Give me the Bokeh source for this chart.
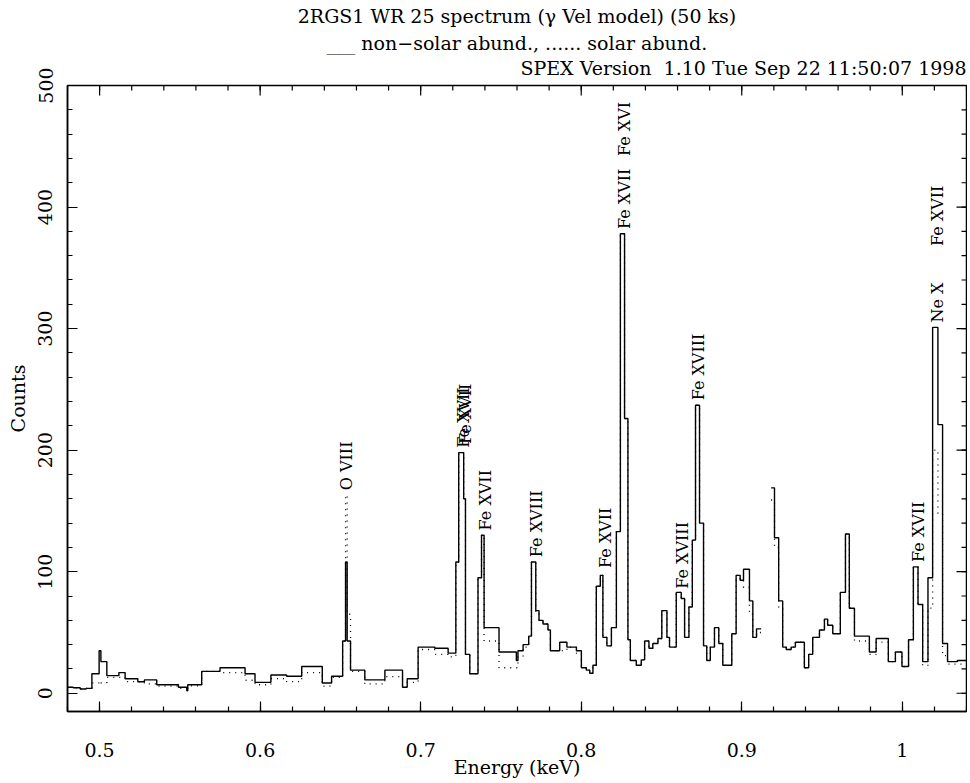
import math
import numpy as np
from bokeh.plotting import figure
from bokeh.models import Range1d, FixedTicker, Title, ColumnDataSource
from bokeh.embed import file_html
from bokeh.resources import INLINE
from bokeh.core.properties import value

FONT = "DejaVu Serif"

# ---- spectrum, first chip segment (bin edges in keV, counts per bin) ----
edges_a = [0.478, 0.4835, 0.4879, 0.4916, 0.4952, 0.4997, 0.5008, 0.5045, 0.5120, 0.5159,
           0.5238, 0.5279, 0.5356, 0.5491, 0.5543, 0.5549, 0.5636, 0.5750, 0.5906, 0.5968,
           0.6067, 0.6165, 0.6259, 0.6387, 0.6445, 0.6514, 0.6532, 0.6542, 0.6563, 0.6652,
           0.6777, 0.6887, 0.6916, 0.6984, 0.7088, 0.7171, 0.7219, 0.7237, 0.7268, 0.7279,
           0.7306, 0.7357, 0.7379, 0.7395, 0.7488, 0.7596, 0.7606, 0.7638, 0.7673, 0.7690,
           0.7717, 0.7737, 0.7762, 0.7793, 0.7808, 0.7866, 0.7911, 0.7970, 0.8001, 0.8032,
           0.8053, 0.8073, 0.8094, 0.8119, 0.8135, 0.8160, 0.8188, 0.8219, 0.8244, 0.8270,
           0.8291, 0.8306, 0.8343, 0.8374, 0.8395, 0.8422, 0.8446, 0.8478, 0.8502, 0.8534,
           0.8550, 0.8592, 0.8623, 0.8644, 0.8671, 0.8692, 0.8712, 0.8737, 0.8762, 0.8782,
           0.8804, 0.8830, 0.8857, 0.8882, 0.8938, 0.8965, 0.8990, 0.9011, 0.9048, 0.9069,
           0.9092, 0.9121]
nonsolar_a = [5, 4.5, 3.5, 4, 16, 35, 26, 14.5, 17, 12,
              9.5, 11, 7, 5, 2, 7, 18, 21, 16, 9,
              15, 14, 22, 8.5, 14, 43, 108, 43, 19, 11,
              19, 5, 12, 38, 37, 33, 108, 198, 160, 32,
              16, 95, 130, 54, 34, 27, 35, 40, 47, 108,
              68, 60, 57, 52, 35, 42, 38, 35, 21, 19,
              16.5, 23, 88, 97, 46, 39, 54, 133, 378, 226,
              44, 27, 23, 27.5, 43, 37, 41, 45, 68, 46,
              38, 83, 78, 46, 71, 126, 237, 140, 39, 27,
              38, 54, 41, 23, 49, 97, 93, 102, 76, 46,
              53]
solar_a = [5, 4.5, 3.5, 4, 8.5, 10, 8.5, 13, 13, 9.6,
           9.6, 7.7, 5.8, 4, 2, 6, 18, 17, 10.7, 7,
           12, 9.6, 17, 5.8, 13, 43, 163, 65, 18, 7.7,
           13.7, 5, 9, 36, 32, 30, 108, 198, 160, 32,
           16, 95, 130, 43, 21, 21, 30, 38, 46, 108,
           66, 60, 57, 52, 35, 35, 38, 33, 21, 19,
           16.5, 23, 88, 97, 46, 39, 54, 133, 378, 226,
           44, 27, 23, 27.5, 43, 37, 41, 45, 68, 46,
           38, 83, 78, 46, 71, 126, 237, 140, 39, 27,
           38, 54, 41, 23, 49, 97, 93, 87, 65, 46,
           50]

# ---- spectrum, second chip segment ----
edges_b = [0.9183, 0.9204, 0.9230, 0.9255, 0.9277, 0.9308, 0.9334, 0.9390, 0.9417, 0.9442,
           0.9484, 0.9515, 0.9535, 0.9567, 0.9614, 0.9646, 0.9670, 0.9702, 0.9795, 0.9837,
           0.9913, 0.9957, 0.9998, 1.0039, 1.0069, 1.0098, 1.0127, 1.0160, 1.0189, 1.0222,
           1.0251, 1.0282, 1.0343, 1.045]
nonsolar_b = [169, 128, 76, 38, 36, 38, 42, 21, 32, 46,
              52, 61, 56, 49, 83, 131, 70, 47, 34, 45,
              26, 34, 22, 44, 104, 73, 26, 95, 301, 221,
              41, 26, 27]
solar_b = [159, 120, 70, 38, 36, 38, 42, 21, 32, 46,
           52, 61, 56, 49, 83, 131, 70, 43, 32, 42,
           26, 34, 22, 44, 104, 73, 23, 70, 200, 148,
           31, 24, 24]

# ---- line identifications (energy keV, counts at label start, name) ----
line_energy = [0.6540, 0.7268, 0.7281, 0.7405, 0.7723, 0.8152, 0.8270, 0.8270,
               0.8631, 0.8731, 1.0100, 1.0218, 1.0218]
line_level = [167, 202, 205, 134, 112, 103, 382, 442, 86, 241, 108, 305, 368]
line_name = ["O VIII", "Fe XVII", "Fe XVII", "Fe XVII", "Fe XVIII", "Fe XVII", "Fe XVII",
             "Fe XVI", "Fe XVIII", "Fe XVIII", "Fe XVII", "Ne X", "Fe XVII"]

X_LO, X_HI = 0.48, 1.04
Y_LO, Y_HI = -15, 500
x_major = [0.5, 0.6, 0.7, 0.8, 0.9, 1.0]
x_minor = [0.48, 0.50, 0.52, 0.54, 0.56, 0.58, 0.60, 0.62, 0.64, 0.66, 0.68, 0.70, 0.72,
           0.74, 0.76, 0.78, 0.80, 0.82, 0.84, 0.86, 0.88, 0.90, 0.92, 0.94, 0.96, 0.98,
           1.00, 1.02, 1.04]
y_major = [0, 100, 200, 300, 400, 500]
y_minor = [0, 20, 40, 60, 80, 100, 120, 140, 160, 180, 200, 220, 240, 260, 280, 300,
           320, 340, 360, 380, 400, 420, 440, 460, 480, 500]

title1 = "2RGS1 WR 25 spectrum (\u03b3 Vel model) (50 ks)"
title2 = "___ non\u2212solar abund., ...... solar abund."
title3 = "SPEX Version\u00a0 1.10 Tue Sep 22 11:50:07 1998"


def step_path(edges, vals):
    xs, ys = [], []
    for lo, hi, v in zip(edges[:-1], edges[1:], vals):
        xs += [lo, hi]
        ys += [v, v]
    return xs, ys


def both_segments(va, vb):
    xa, ya = step_path(edges_a, va)
    xb, yb = step_path(edges_b, vb)
    return xa + [np.nan] + xb, ya + [np.nan] + yb


W, H = 967, 783
BL, BR, BT, BB = 67, 1, 85, 72
p = figure(width=W, height=H, x_range=Range1d(X_LO, X_HI), y_range=Range1d(Y_LO, Y_HI),
           output_backend="svg", toolbar_location=None,
           min_border_left=BL, min_border_right=BR, min_border_top=BT, min_border_bottom=BB)
p.xgrid.visible = False
p.ygrid.visible = False
p.outline_line_color = "black"
p.outline_line_width = 1.5
p.background_fill_color = "white"
p.border_fill_color = "white"


def style_axis(ax, major, minor):
    ax.ticker = FixedTicker(ticks=major, minor_ticks=minor)
    ax.major_tick_in = 10
    ax.major_tick_out = 0
    ax.minor_tick_in = 5
    ax.minor_tick_out = 0
    ax.major_tick_line_color = "black"
    ax.minor_tick_line_color = "black"
    ax.major_tick_line_width = 1.2
    ax.minor_tick_line_width = 1.2
    ax.axis_line_color = "black"
    ax.axis_line_width = 1.5
    ax.major_label_text_font = FONT
    ax.major_label_text_font_size = "19px"
    ax.major_label_text_color = "black"
    ax.axis_label_text_font = FONT
    ax.axis_label_text_font_size = "19px"
    ax.axis_label_text_font_style = "normal"
    ax.axis_label_text_color = "black"


xa_ax = p.xaxis[0]
style_axis(xa_ax, x_major, x_minor)
xa_ax.major_label_overrides = {1: "1"}
xa_ax.axis_label = "Energy (keV)"
xa_ax.major_label_standoff = 31
xa_ax.axis_label_standoff = -4

ya_ax = p.yaxis[0]
style_axis(ya_ax, y_major, y_minor)
ya_ax.major_label_orientation = "vertical"
ya_ax.axis_label = "Counts"
ya_ax.major_label_standoff = 15
ya_ax.axis_label_standoff = 7

# inward ticks on the top and right frame edges (half of each dash is clipped away)
p.scatter(x=x_major, y=[Y_HI] * len(x_major), marker="dash", angle=math.pi / 2,
          size=20, line_color="black", line_width=1.2)
p.scatter(x=x_minor, y=[Y_HI] * len(x_minor), marker="dash", angle=math.pi / 2,
          size=10, line_color="black", line_width=1.2)
p.scatter(x=[X_HI] * len(y_major), y=y_major, marker="dash",
          size=20, line_color="black", line_width=1.2)
p.scatter(x=[X_HI] * len(y_minor), y=y_minor, marker="dash",
          size=10, line_color="black", line_width=1.2)

xs, ys = both_segments(solar_a, solar_b)
p.line(xs, ys, line_color="black", line_width=1.3, line_dash="1 5")
xs, ys = both_segments(nonsolar_a, nonsolar_b)
p.line(xs, ys, line_color="black", line_width=1.4)

src = ColumnDataSource(dict(x=line_energy, y=line_level, t=line_name))
p.text(x="x", y="y", text="t", source=src, angle=math.pi / 2,
       text_align="left", text_baseline="middle",
       text_font=value(FONT), text_font_size="16px", text_color="black")

# titles stacked above the frame: first added sits closest to the frame
for txt, align, valign, gap in [(title3, "right", "top", 10),
                                (title2, "center", "bottom", -4),
                                (title1, "center", "top", 6)]:
    p.add_layout(Title(text=txt, align=align, vertical_align=valign, text_font=FONT,
                       text_font_size="19px", text_font_style="normal", text_color="black",
                       standoff=gap, offset=0), "above")

open("out.html", "w").write(file_html(p, INLINE))
